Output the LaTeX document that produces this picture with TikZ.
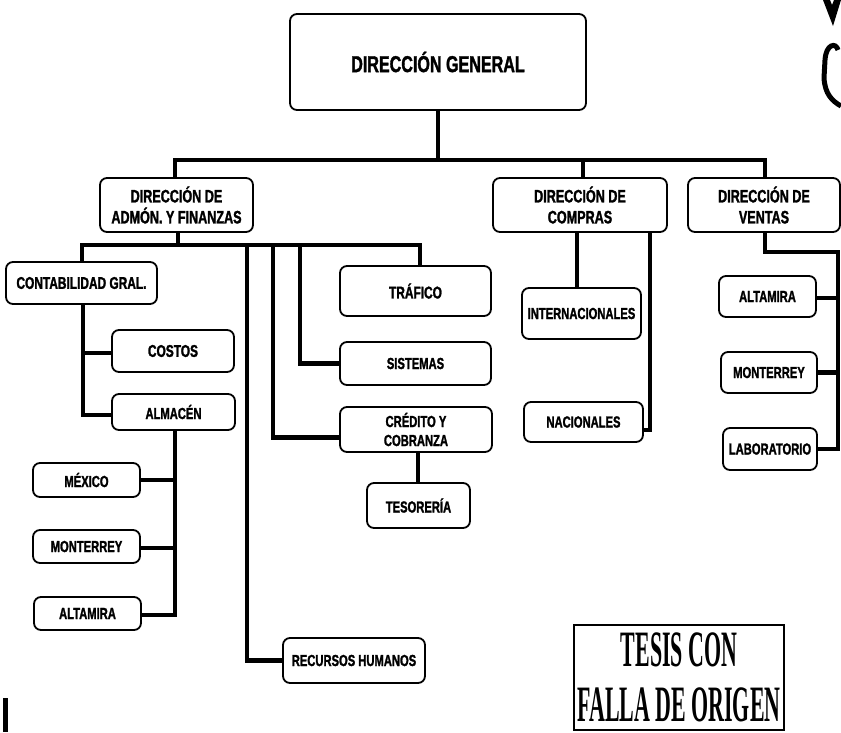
\documentclass[tikz,border=0pt]{standalone}
\usepackage{fontspec}
\newfontfamily\boxfont{Liberation Sans}[FakeStretch=0.70, BoldFeatures={FakeBold=1.5}]
\newfontfamily\tesisfont{Liberation Serif}[FakeStretch=0.43]
\begin{document}
\begin{tikzpicture}[x=1pt,y=-1pt,
  box/.style={draw, line width=1.8pt, rounded corners=7pt, inner sep=0pt, align=center,
    font=\boxfont\bfseries\fontsize{16}{19}\selectfont},
  bigbox/.style={box, font=\boxfont\bfseries\fontsize{18}{21}\selectfont},
  midbox/.style={box, font=\boxfont\bfseries\fontsize{17}{20}\selectfont},
  conn/.style={line width=4.5pt},
  artifact/.style={fill=black}]
\useasboundingbox (0,0) rectangle (841,732);

% main
\node[box, font=\boxfont\bfseries\fontsize{23}{27}\selectfont, minimum width=296pt, minimum height=96pt] (dg) at (438,62) {DIRECCIÓN GENERAL};
\node[bigbox, minimum width=153pt, minimum height=54pt] (daf) at (176.5,205) {DIRECCIÓN DE\\ADMÓN. Y FINANZAS};
\node[bigbox, minimum width=174pt, minimum height=54pt] (dc) at (580,205) {DIRECCIÓN DE\\COMPRAS};
\node[bigbox, minimum width=152pt, minimum height=54pt] (dv) at (764,205) {DIRECCIÓN DE\\VENTAS};

% admin
\node[midbox, minimum width=151pt, minimum height=42pt] (cg) at (81.5,283) {CONTABILIDAD GRAL.};
\node[midbox, minimum width=122pt, minimum height=42pt] (costos) at (173,351) {COSTOS};
\node[box, minimum width=123pt, minimum height=36pt] (almacen) at (173.5,412) {ALMACÉN};
\node[box, minimum width=107pt, minimum height=34pt] (mexico) at (86.5,480) {MÉXICO};
\node[box, minimum width=107pt, minimum height=33pt] (monterreyL) at (86.5,546.5) {MONTERREY};
\node[box, minimum width=107pt, minimum height=33pt] (altamiraL) at (87.5,613.5) {ALTAMIRA};
\node[midbox, minimum width=151pt, minimum height=50pt] (trafico) at (415.5,291) {TRÁFICO};
\node[box, minimum width=151pt, minimum height=43pt] (sistemas) at (415.5,363.5) {SISTEMAS};
\node[box, minimum width=152pt, minimum height=45pt] (credito) at (416,429.5) {CRÉDITO Y\\COBRANZA};
\node[box, minimum width=103pt, minimum height=45pt] (tesoreria) at (418.5,505.5) {TESORERÍA};
\node[box, minimum width=142pt, minimum height=45pt] (rrhh) at (354,660.5) {RECURSOS HUMANOS};

% compras
\node[box, minimum width=119pt, minimum height=51pt] (intl) at (581.5,313.5) {INTERNACIONALES};
\node[box, minimum width=119pt, minimum height=40pt] (nac) at (583.5,422) {NACIONALES};

% ventas
\node[box, minimum width=97pt, minimum height=41pt] (altamiraR) at (767.5,296.5) {ALTAMIRA};
\node[box, minimum width=96pt, minimum height=41pt] (monterreyR) at (769,372.5) {MONTERREY};
\node[box, minimum width=94pt, minimum height=42pt] (laboratorio) at (770,449) {LABORATORIO};

% stamp
\node[draw, line width=1.5pt, minimum width=210pt, minimum height=105pt, inner sep=0pt, align=center,
  font=\tesisfont\bfseries\fontsize{51}{55}\selectfont] (tesis) at (679,677.5) {TESIS CON\\FALLA DE ORIGEN};

% connectors: top level
\coordinate (busY) at (440,160);
\draw[conn] (dg.south) -- (dg.south |- busY);
\coordinate (dafn) at ([xshift=-1.5pt]daf.north);
\coordinate (dvn) at ([xshift=1pt]dv.north);
\coordinate (dcn) at ([xshift=3pt]dc.north);
\draw[conn] (dafn) -- (dafn |- busY) -| (dvn);
\draw[conn] (dcn) -- (dcn |- busY);

% admin connectors
\coordinate (b2) at (178,245);
\coordinate (v1) at (247,245);
\coordinate (v2) at (273,245);
\coordinate (v3) at (300,245);
\coordinate (cgn) at ([xshift=0.5pt]cg.north);
\coordinate (trn) at ([xshift=4.5pt]trafico.north);
\coordinate (cgs) at ([xshift=1.5pt]cg.south);
\coordinate (als) at ([xshift=1.5pt]almacen.south);
\coordinate (crs) at ([xshift=2pt]credito.south);
\draw[conn] ([xshift=1.5pt]daf.south) -- (b2);
\draw[conn] (cgn) -- (cgn |- b2) -| (trn);
\draw[conn] (v1) |- (rrhh.west);
\draw[conn] (v2) |- ([yshift=-8pt]credito.west);
\draw[conn] (v3) |- (sistemas.west);
\draw[conn] (cgs) |- ([yshift=-3pt]almacen.west);
\coordinate (cow) at ([yshift=-2pt]costos.west);
\draw[conn] (cow) -- (cow -| cgs);
\draw[conn] (als) |- ([yshift=-1.5pt]altamiraL.east);
\draw[conn] (mexico.east) -- (mexico.east -| als);
\coordinate (mle) at ([yshift=-1.5pt]monterreyL.east);
\draw[conn] (mle) -- (mle -| als);
\draw[conn] (crs) -- (crs |- tesoreria.north);

% compras connectors
\coordinate (c2) at (650,232);
\coordinate (inn) at ([xshift=-4.5pt]intl.north);
\draw[conn] (inn) -- (inn |- dc.south);
\draw[conn] (c2) |- ([yshift=-8pt]nac.east);

% ventas connectors
\coordinate (vr) at (838,252);
\coordinate (dvs) at ([xshift=1pt]dv.south);
\coordinate (are) at ([yshift=-1.5pt]altamiraR.east);
\draw[conn] (dvs) |- (vr) -- (vr |- laboratorio.east) -- (laboratorio.east);
\draw[conn] (are) -- (are -| vr);
\draw[conn] (monterreyR.east) -- (monterreyR.east -| vr);

% scan marks
\fill[artifact] (823,0) -- (830,0) -- (832,5) -- (834,0) -- (841,0) -- (833,26) -- cycle;
\draw[line width=5pt] (838,50) .. controls (836,42) and (826,44) .. (825,60) -- (824,78) .. controls (825,94) and (832,101) .. (841,106);
\fill[artifact] (3,698) rectangle (8,732);
\end{tikzpicture}
\end{document}
